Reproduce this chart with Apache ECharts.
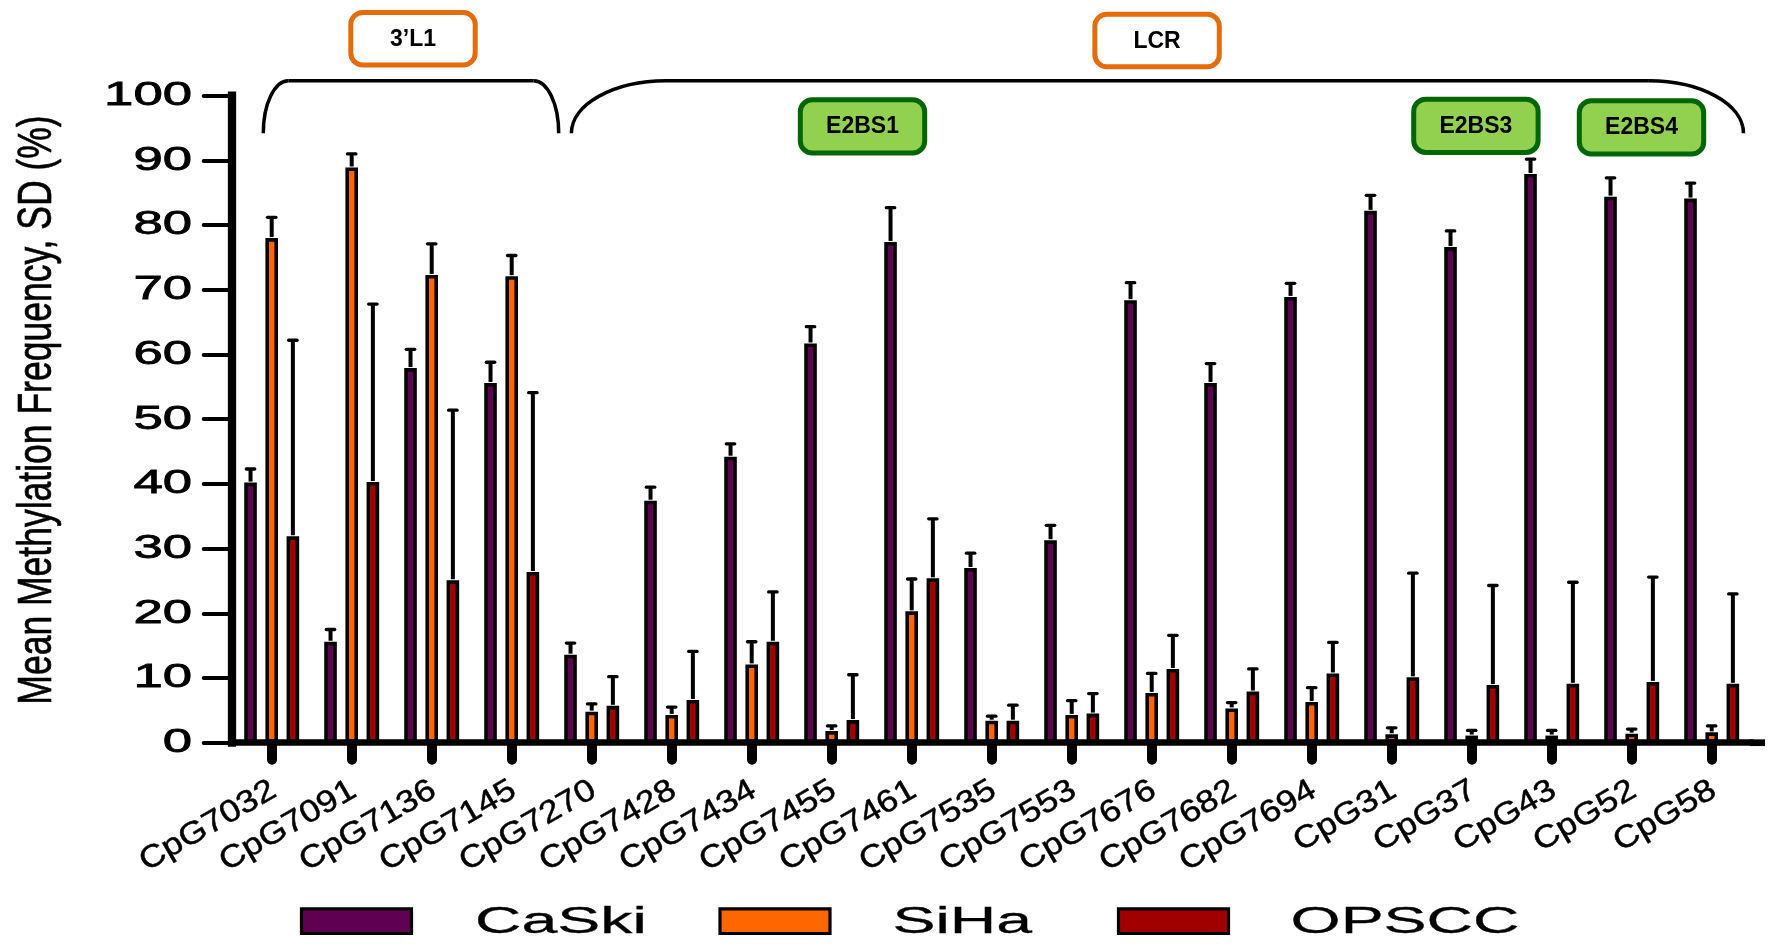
<!DOCTYPE html>
<html>
<head>
<meta charset="utf-8">
<title>Mean Methylation Frequency</title>
<script src="https://cdn.jsdelivr.net/npm/echarts@6/dist/echarts.min.js"></script>
<style>
  html, body { margin: 0; padding: 0; background: #ffffff; }
  #main { width: 1768px; height: 944px; }
</style>
</head>
<body>
<div id="main"></div>
<script>
// ---- data ----------------------------------------------------------------
const categories = ['CpG7032', 'CpG7091', 'CpG7136', 'CpG7145', 'CpG7270', 'CpG7428', 'CpG7434',
  'CpG7455', 'CpG7461', 'CpG7535', 'CpG7553', 'CpG7676', 'CpG7682', 'CpG7694',
  'CpG31', 'CpG37', 'CpG43', 'CpG52', 'CpG58'];

const seriesNames = ['CaSki', 'SiHa', 'OPSCC'];

const caskiMean = [40.2, 15.6, 57.9, 55.6, 13.6, 37.4, 44.2, 61.7, 77.4, 27.0, 31.3, 68.4, 55.6, 68.9, 82.2, 76.6, 87.9, 84.4, 84.1];
const caskiSD   = [2.1, 1.9, 2.9, 3.2, 1.8, 2.1, 2.0, 2.6, 5.3, 2.3, 2.3, 2.7, 3.0, 2.1, 2.4, 2.5, 2.3, 2.9, 2.4];

const sihaMean  = [78.0, 88.9, 72.3, 72.1, 4.8, 4.3, 12.1, 1.8, 20.3, 3.4, 4.3, 7.7, 5.3, 6.3, 1.3, 1.1, 1.1, 1.4, 1.6];
const sihaSD    = [3.2, 2.1, 4.8, 3.2, 1.2, 1.2, 3.5, 0.8, 5.0, 0.7, 2.2, 3.0, 0.9, 2.2, 1.0, 0.8, 0.8, 0.7, 1.0];

const opsccMean = [31.9, 40.3, 25.1, 26.4, 5.7, 6.6, 15.6, 3.5, 25.4, 3.4, 4.5, 11.4, 7.9, 10.7, 10.1, 8.9, 9.1, 9.4, 9.1];
const opsccSD   = [30.3, 27.5, 26.3, 27.7, 4.5, 7.5, 7.7, 7.0, 9.2, 2.4, 3.1, 5.2, 3.5, 4.8, 16.1, 15.4, 15.7, 16.2, 13.9];

const yTicks = [0, 10, 20, 30, 40, 50, 60, 70, 80, 90, 100];

const yAxisTitle = 'Mean Methylation Frequency, SD (%)';

// region annotations above the plot
const regionLabels = ['3\u2019L1', 'LCR'];
const siteLabels = ['E2BS1', 'E2BS3', 'E2BS4'];

// ---- styles --------------------------------------------------------------
const COLORS = ['#600050', '#FF6600', '#A00000'];
const FONT = '"Liberation Sans", Arial, Helvetica, sans-serif';
const BAR_W = 12.6;
const BAR_GAP = 0.68;
const PITCH = BAR_W * (1 + BAR_GAP);
const CAP_W = 8.4;
const GRID = { left: 231.7, right: 16.3, top: 95.7, bottom: 201.3 };

const means = [caskiMean, sihaMean, opsccMean];
const sds = [caskiSD, sihaSD, opsccSD];

const chart = echarts.init(document.getElementById('main'), null, { renderer: 'canvas' });

const barSeries = seriesNames.map((name, s) => ({
  name: name,
  type: 'bar',
  data: means[s],
  barWidth: BAR_W,
  barGap: (BAR_GAP * 100) + '%',
  itemStyle: { color: COLORS[s], borderColor: '#000', borderWidth: 3.6 },
  z: 3
}));

// upper error whiskers (mean -> mean + SD)
const errData = [];
seriesNames.forEach((name, s) => {
  categories.forEach((c, i) => errData.push([i, means[s][i], sds[s][i], s]));
});

const errSeries = {
  type: 'custom',
  name: 'SD',
  data: errData,
  dimensions: ['cat', 'mean', 'sd', 'series'],
  encode: { x: 0, y: 1 },
  z: 4,
  renderItem: function (params, api) {
    const ci = api.value(0), m = api.value(1), sd = api.value(2), s = api.value(3);
    const p0 = api.coord([ci, m]);
    const p1 = api.coord([ci, m + sd]);
    const x = p0[0] + (s - 1) * PITCH;
    return {
      type: 'group',
      children: [
        { type: 'line', shape: { x1: x, y1: p0[1] - 1, x2: x, y2: p1[1] },
          style: { stroke: '#000', lineWidth: 4 } },
        { type: 'line', shape: { x1: x - CAP_W / 2, y1: p1[1], x2: x + CAP_W / 2, y2: p1[1] },
          style: { stroke: '#000', lineWidth: 3.3, lineCap: 'round' } }
      ]
    };
  }
};

chart.setOption({
  animation: false,
  backgroundColor: '#ffffff',
  grid: Object.assign({ containLabel: false, outerBoundsMode: 'none' }, GRID),
  xAxis: {
    type: 'category',
    data: categories,
    boundaryGap: true,
    axisLine: { lineStyle: { color: '#000', width: 6.7 } },
    axisTick: { show: true, interval: 0, alignWithLabel: true, length: 17,
      lineStyle: { color: '#000', width: 10, cap: 'round' } },
    axisLabel: { show: false, interval: 0 },
    splitLine: { show: false }
  },
  yAxis: {
    type: 'value',
    min: 0,
    max: 100,
    interval: 10,
    axisLine: { show: true, lineStyle: { color: '#000', width: 8.3, cap: 'square' } },
    axisTick: { show: true, length: 28, lineStyle: { color: '#000', width: 4, cap: 'round' } },
    axisLabel: { show: false },
    splitLine: { show: false }
  },
  series: barSeries.concat([errSeries])
});

// ---- text and annotations, positioned from the axes ------------------------
const g = [];
const y0 = chart.convertToPixel({ yAxisIndex: 0 }, 0);
const xRight = 1768 - GRID.right;

function txt(o, text, font, align, stroke) {
  o.type = 'text';
  o.style = { text: text, font: font, fill: '#000',
    stroke: stroke ? '#000' : null, lineWidth: stroke || 0,
    align: align, textAlign: align, verticalAlign: 'middle', textVerticalAlign: 'middle' };
  if (o.z == null) o.z = 10;
  return o;
}

// x axis runs a little past the last category
g.push({ type: 'line', z: 2, shape: { x1: xRight - 2, y1: y0, x2: 1765, y2: y0 },
  style: { stroke: '#000', lineWidth: 6.7 } });

// y tick labels (wide lettering)
yTicks.forEach(v => {
  const py = chart.convertToPixel({ yAxisIndex: 0 }, v);
  g.push(txt({ x: 192, y: py, scaleX: 1.55 }, String(v), '34px ' + FONT, 'right', 0.8));
});

// category labels, slanted and widened
const LABEL_ROT = 30 * Math.PI / 180;
categories.forEach(c => {
  const px = chart.convertToPixel({ xAxisIndex: 0 }, c);
  g.push(txt({ x: px + 2, y: 788, rotation: LABEL_ROT, scaleX: 1.42, scaleY: 1.25 },
    c, '25px ' + FONT, 'right', 0.4));
});

// y axis title
g.push(txt({ x: 38, y: 410, rotation: Math.PI / 2, scaleY: 1.35 },
  yAxisTitle, '35.5px ' + FONT, 'center', 0.5));

// legend
const legendPos = [[301.5, 475], [720, 892.6], [1118.5, 1290.6]];
seriesNames.forEach((name, s) => {
  const lp = legendPos[s];
  g.push({ type: 'rect', z: 10, shape: { x: lp[0], y: 908.8, width: 110, height: 24.7 },
    style: { fill: COLORS[s], stroke: '#000', lineWidth: 3.2 } });
  g.push(txt({ x: lp[1], y: 922.5, scaleX: 1.74 }, name, '37px ' + FONT, 'left', 0.3));
});

// region brackets: rounded corners joined by a straight top
function bracket(xl, xr, rx, yTop, yBottom) {
  const k = 0.552;
  const ry = yBottom - yTop;
  const st = { fill: 'none', stroke: '#000', lineWidth: 3.5 };
  return [
    { type: 'bezierCurve', z: 10, style: st,
      shape: { x1: xl, y1: yBottom, cpx1: xl, cpy1: yBottom - k * ry,
        cpx2: xl + rx - k * rx, cpy2: yTop, x2: xl + rx, y2: yTop } },
    { type: 'line', z: 10, style: st,
      shape: { x1: xl + rx, y1: yTop, x2: xr - rx, y2: yTop } },
    { type: 'bezierCurve', z: 10, style: st,
      shape: { x1: xr - rx, y1: yTop, cpx1: xr - rx + k * rx, cpy1: yTop,
        cpx2: xr, cpy2: yBottom - k * ry, x2: xr, y2: yBottom } }
  ];
}
bracket(263.3, 558.7, 25, 80.7, 133.3).forEach(e => g.push(e));
bracket(571.4, 1743.5, 94.6, 80.7, 133.3).forEach(e => g.push(e));

// region boxes (orange outline)
const regionBoxes = [[350.8, 12.5], [1094.9, 14.2]];
regionLabels.forEach((t, k) => {
  const b = regionBoxes[k];
  g.push({ type: 'rect', z: 11, shape: { x: b[0], y: b[1], width: 124.4, height: 52.5, r: 12 },
    style: { fill: '#ffffff', stroke: '#E46C0A', lineWidth: 5 } });
  g.push(txt({ z: 12, x: b[0] + 62.2, y: b[1] + 27.5 }, t, 'bold 23px ' + FONT, 'center', 0));
});

// binding-site boxes (green)
const siteBoxes = [[800.3, 99.8], [1413.7, 99.2], [1579.3, 100.8]];
siteLabels.forEach((t, k) => {
  const b = siteBoxes[k];
  g.push({ type: 'rect', z: 11, shape: { x: b[0], y: b[1], width: 124.4, height: 53.2, r: 12 },
    style: { fill: '#92D050', stroke: '#006600', lineWidth: 5 } });
  g.push(txt({ z: 12, x: b[0] + 62.2, y: b[1] + 27.3 }, t, 'bold 23px ' + FONT, 'center', 0));
});

chart.setOption({ graphic: { elements: g } });
</script>
</body>
</html>
